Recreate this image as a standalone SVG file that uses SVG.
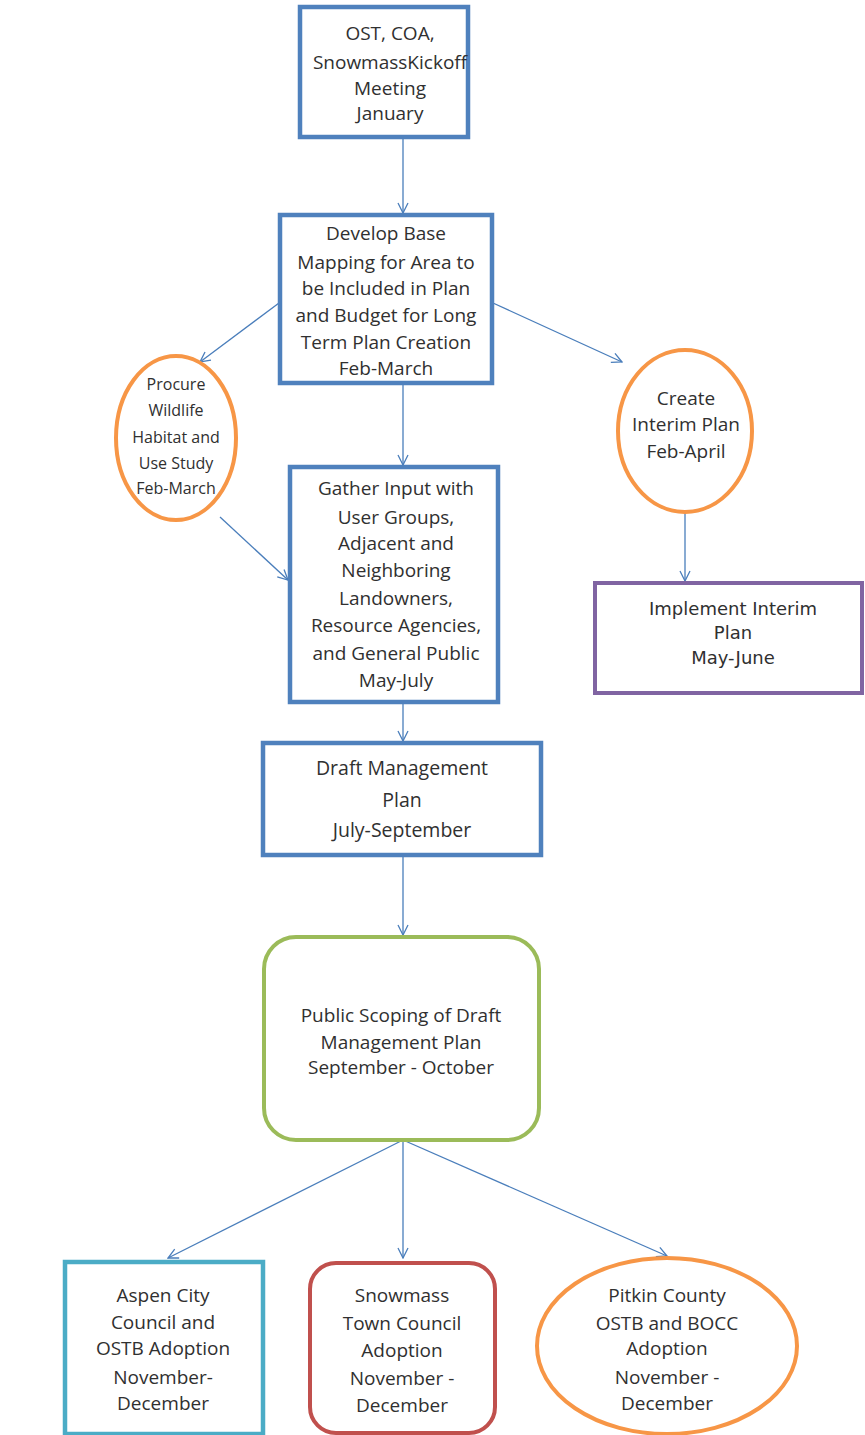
<svg xmlns="http://www.w3.org/2000/svg" width="865" height="1435" viewBox="0 0 865 1435">
<defs>
<marker id="arr" viewBox="0 0 12 12" refX="11" refY="6" markerWidth="12" markerHeight="12" markerUnits="userSpaceOnUse" orient="auto">
<path d="M1,1 L11,6 L1,11" fill="none" stroke="#4a7ebb" stroke-width="1.3"/>
</marker>
<style>
.t{font-family:"Open Sans","Liberation Sans",sans-serif;font-size:19px;fill:#303030;text-anchor:middle}
.p{font-family:"Open Sans","Liberation Sans",sans-serif;font-size:16px;fill:#303030;text-anchor:middle}
.v{font-family:"DejaVu Sans","Liberation Sans",sans-serif;font-size:18px;fill:#303030;text-anchor:middle}
.blue{fill:#fff;stroke:#4f81bd;stroke-width:4.5}
.orange{fill:#fff;stroke:#f79646;stroke-width:4}
.purple{fill:#fff;stroke:#8064a2;stroke-width:4}
.green{fill:#fff;stroke:#9bbb59;stroke-width:4}
.teal{fill:#fff;stroke:#4bacc6;stroke-width:4.5}
.red{fill:#fff;stroke:#c0504d;stroke-width:4}
.c{fill:none;stroke:#4a7ebb;stroke-width:1.3;marker-end:url(#arr)}
</style>
</defs>
<rect width="865" height="1435" fill="#fff"/>
<g id="connectors">
<line class="c" x1="403" y1="137" x2="403" y2="213"/>
<line class="c" x1="279" y1="303" x2="200" y2="362"/>
<line class="c" x1="493" y1="303" x2="622" y2="362"/>
<line class="c" x1="403" y1="383" x2="403" y2="465"/>
<line class="c" x1="220" y1="517" x2="288" y2="580"/>
<line class="c" x1="685" y1="512" x2="685" y2="581"/>
<line class="c" x1="403" y1="702" x2="403" y2="741"/>
<line class="c" x1="403" y1="855" x2="403" y2="935"/>
<line class="c" x1="403" y1="1140" x2="168" y2="1258"/>
<line class="c" x1="403" y1="1140" x2="403" y2="1258"/>
<line class="c" x1="403" y1="1140" x2="667" y2="1256"/>
</g>
<g id="kickoff">
<rect class="blue" x="300" y="7" width="168" height="130"/>
<text class="t" x="390" y="40">OST, COA,</text>
<text class="t" x="390" y="69">SnowmassKickoff</text>
<text class="t" x="390" y="95">Meeting</text>
<text class="t" x="390" y="120">January</text>
</g>
<g id="develop">
<rect class="blue" x="280" y="215" width="212" height="168"/>
<text class="t" x="386" y="240">Develop Base</text>
<text class="t" x="386" y="269">Mapping for Area to</text>
<text class="t" x="386" y="295">be Included in Plan</text>
<text class="t" x="386" y="322">and Budget for Long</text>
<text class="t" x="386" y="349">Term Plan Creation</text>
<text class="t" x="386" y="375">Feb-March</text>
</g>
<g id="procure">
<ellipse class="orange" cx="176" cy="438" rx="60" ry="82"/>
<text class="p" x="176" y="390">Procure</text>
<text class="p" x="176" y="416">Wildlife</text>
<text class="p" x="176" y="443">Habitat and</text>
<text class="p" x="176" y="469">Use Study</text>
<text class="p" x="176" y="494">Feb-March</text>
</g>
<g id="create">
<ellipse class="orange" cx="685" cy="431" rx="67" ry="81"/>
<text class="t" x="686" y="405">Create</text>
<text class="t" x="686" y="431">Interim Plan</text>
<text class="t" x="686" y="458">Feb-April</text>
</g>
<g id="gather">
<rect class="blue" x="290" y="467" width="208" height="235"/>
<text class="t" x="396" y="495">Gather Input with</text>
<text class="t" x="396" y="524">User Groups,</text>
<text class="t" x="396" y="550">Adjacent and</text>
<text class="t" x="396" y="577">Neighboring</text>
<text class="t" x="396" y="605">Landowners,</text>
<text class="t" x="396" y="632">Resource Agencies,</text>
<text class="t" x="396" y="660">and General Public</text>
<text class="t" x="396" y="687">May-July</text>
</g>
<g id="implement">
<rect class="purple" x="595" y="583" width="267" height="110"/>
<text class="v" x="733" y="615">Implement Interim</text>
<text class="v" x="733" y="639">Plan</text>
<text class="v" x="733" y="664">May-June</text>
</g>
<g id="draft">
<rect class="blue" x="263" y="743" width="278" height="112"/>
<text class="t" x="402" y="775" style="font-size:19.5px">Draft Management</text>
<text class="t" x="402" y="807" style="font-size:19.5px">Plan</text>
<text class="t" x="402" y="837" style="font-size:19.5px">July-September</text>
</g>
<g id="scoping">
<rect class="green" x="264" y="937" width="275" height="203" rx="32" ry="32"/>
<text class="t" x="401" y="1022">Public Scoping of Draft</text>
<text class="t" x="401" y="1049">Management Plan</text>
<text class="t" x="401" y="1074">September - October</text>
</g>
<g id="aspen">
<rect class="teal" x="65" y="1262" width="198" height="172"/>
<text class="t" x="163" y="1302">Aspen City</text>
<text class="t" x="163" y="1329">Council and</text>
<text class="t" x="163" y="1355">OSTB Adoption</text>
<text class="t" x="163" y="1384">November-</text>
<text class="t" x="163" y="1410">December</text>
</g>
<g id="snowmass">
<rect class="red" x="310" y="1263" width="185" height="170" rx="26" ry="26"/>
<text class="t" x="402" y="1302">Snowmass</text>
<text class="t" x="402" y="1330">Town Council</text>
<text class="t" x="402" y="1357">Adoption</text>
<text class="t" x="402" y="1385">November -</text>
<text class="t" x="402" y="1412">December</text>
</g>
<g id="pitkin">
<ellipse class="orange" cx="667" cy="1346" rx="130" ry="88"/>
<text class="t" x="667" y="1302">Pitkin County</text>
<text class="t" x="667" y="1330">OSTB and BOCC</text>
<text class="t" x="667" y="1355">Adoption</text>
<text class="t" x="667" y="1384">November -</text>
<text class="t" x="667" y="1410">December</text>
</g>
</svg>
